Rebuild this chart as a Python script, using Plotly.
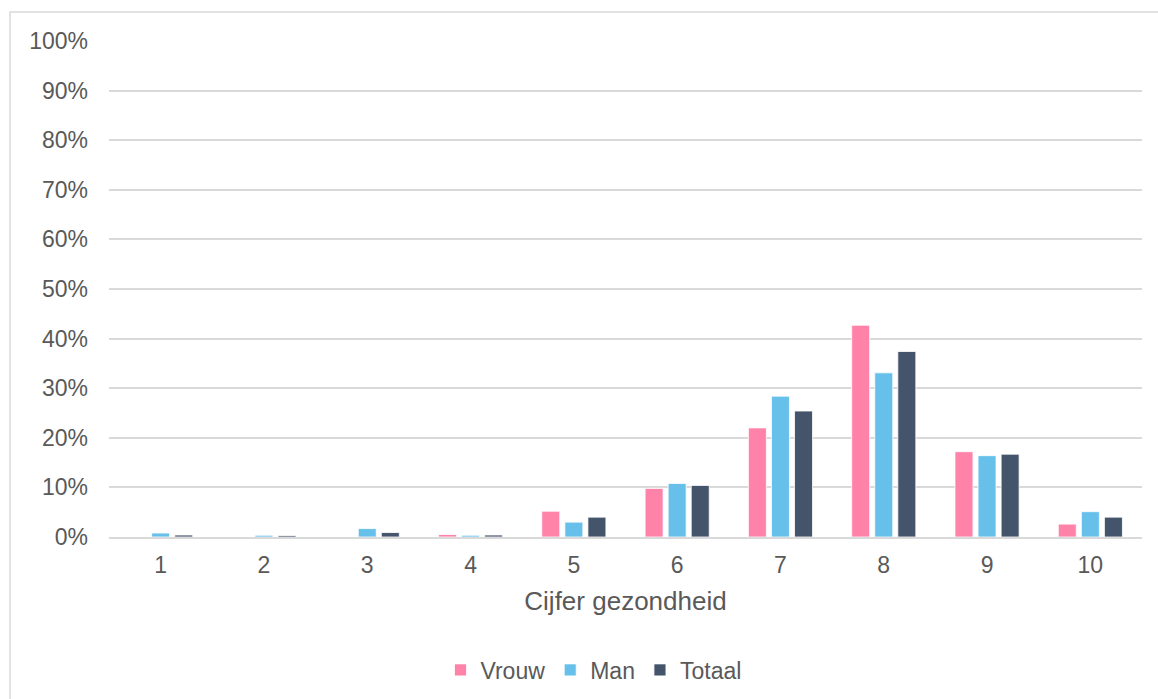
import plotly.graph_objects as go

# Rapportcijfer voor de eigen gezondheid, verdeling per geslacht (aandeel in %)
cijfers = ["1", "2", "3", "4", "5", "6", "7", "8", "9", "10"]
vrouw = [0.0, 0.0, 0.0, 0.5, 5.2, 9.8, 22.0, 42.7, 17.2, 2.6]
man = [0.8, 0.35, 1.7, 0.35, 3.0, 10.8, 28.4, 33.1, 16.4, 5.1]
totaal = [0.4, 0.3, 0.9, 0.4, 4.0, 10.4, 25.4, 37.4, 16.7, 4.0]

reeksen = [
    ("Vrouw", vrouw, "#FF82A9"),
    ("Man", man, "#66C0EA"),
    ("Totaal", totaal, "#44546A"),
]

fig = go.Figure()
for naam, waarden, kleur in reeksen:
    fig.add_trace(go.Bar(
        name=naam,
        x=cijfers,
        y=[v / 100 for v in waarden],
        marker=dict(color=kleur, line=dict(color="white", width=0.8)),
    ))

grijs = "#595959"
fig.update_layout(
    width=1158,
    height=699,
    margin=dict(l=109, r=16, t=41, b=162, autoexpand=False),
    paper_bgcolor="white",
    plot_bgcolor="white",
    font=dict(family="Liberation Sans, Arial, sans-serif", color=grijs, size=23),
    barmode="group",
    bargap=0.33,
    bargroupgap=0.22,
    showlegend=True,
    legend=dict(
        orientation="h",
        x=0.469, xanchor="center",
        y=-0.268, yanchor="middle",
        font=dict(size=23, color=grijs),
        itemwidth=30,
        traceorder="normal",
    ),
    xaxis=dict(
        title=dict(text="Cijfer gezondheid", font=dict(size=26, color=grijs), standoff=14),
        tickfont=dict(size=23, color=grijs),
        showgrid=False,
        showline=True,
        linecolor="#d9d9d9",
        linewidth=1.5,
        ticks="",
        ticklabelstandoff=7,
        automargin=False,
    ),
    yaxis=dict(
        range=[0, 1.0],
        tickvals=[i / 10 for i in range(11)],
        tickformat=".0%",
        tickfont=dict(size=23, color=grijs),
        showgrid=True,
        gridcolor="#d9d9d9",
        gridwidth=1.5,
        zeroline=False,
        showline=False,
        ticks="",
        ticklabelstandoff=20,
        automargin=False,
    ),
    shapes=[dict(
        type="rect", xref="paper", yref="paper",
        x0=-0.0958, x1=1.03, y0=-0.34, y1=1.0585,
        line=dict(color="#d9d9d9", width=1.5),
        fillcolor="rgba(0,0,0,0)",
        layer="below",
    )],
)

fig.write_html("out.html")
